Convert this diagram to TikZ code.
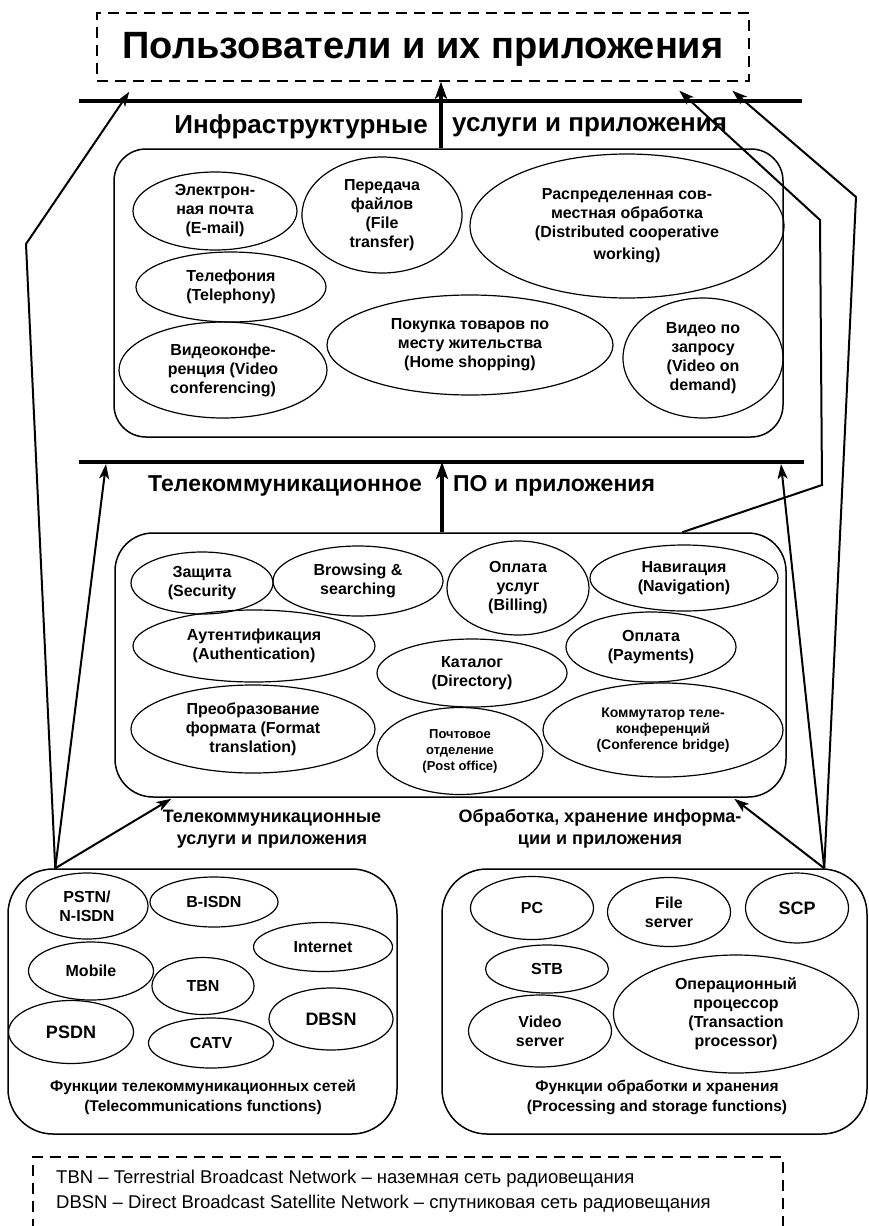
\documentclass[tikz,border=0pt]{standalone}
\usepackage{fontspec}
\setmainfont{Liberation Sans}
\usetikzlibrary{shapes.geometric,arrows.meta,calc}
\begin{document}
\begin{tikzpicture}[x=1pt,y=-1pt,
  ell/.style={draw, ellipse, line width=1.2pt, inner sep=0pt, align=center,
    font=\fontsize{16}{19}\selectfont\bfseries},
  ellbig/.style={ell, font=\fontsize{18}{21}\selectfont\bfseries},
  ellsmall/.style={ell, font=\fontsize{13}{16}\selectfont\bfseries},
  rbox/.style={draw, rectangle, line width=1.5pt, inner sep=0pt},
  dbox/.style={draw, rectangle, line width=1.4pt, inner sep=0pt, dash pattern=on 11pt off 7pt},
  hline/.style={line width=3.5pt},
  heading/.style={font=\fontsize{26}{28}\selectfont\bfseries, inner sep=0pt},
  subhead/.style={font=\fontsize{18}{22}\selectfont\bfseries, align=center, inner sep=0pt},
  caption/.style={font=\fontsize{15.5}{20}\selectfont\bfseries, align=center, inner sep=0pt},
  legtext/.style={font=\fontsize{18.5}{20}\selectfont, anchor=west, inner sep=0pt},
  arr/.style={line width=2pt, -{Stealth[length=15pt,width=10pt,inset=4pt]}},
  bigarr/.style={line width=3.5pt, -{Stealth[length=17pt,width=12pt,inset=4pt]}}
]
\useasboundingbox (0,0) rectangle (869,1226);

% top users box
\node[dbox, minimum width=652pt, minimum height=68pt] (users) at (423,47) {};
\node[font=\fontsize{38}{40}\selectfont\bfseries, inner sep=0pt] (title) at (423,49) {Пользователи и их приложения};

% line 1
\coordinate (l1a) at (79,101);
\coordinate (l1b) at (802,101);
\draw[hline] (l1a) -- (l1b);
\node[heading, anchor=east] (h1a) at (428,127) {Инфраструктурные};
\node[heading, anchor=west] (h1b) at (452,127) {услуги и приложения};

% box 1
\node[rbox, rounded corners=32pt, minimum width=669pt, minimum height=288pt] (box1) at (448.5,293) {};
\node[ell, minimum width=164pt, minimum height=78pt] (email) at (215,211) {Электрон-\\ная почта\\(E-mail)};
\node[ell, minimum width=160pt, minimum height=116pt] (file) at (382,215) {Передача\\файлов\\(File\\transfer)};
\node[ell, minimum width=314pt, minimum height=144pt] (distr) at (627,226) {Распределенная сов-\\местная обработка\\(Distributed cooperative\\[3pt]working)};
\node[ell, minimum width=190pt, minimum height=70pt] (tel) at (231,287) {Телефония\\(Telephony)};
\node[ell, minimum width=208pt, minimum height=96pt] (vconf) at (223,370) {Видеоконфе-\\ренция (Video\\conferencing)};
\node[ell, minimum width=286pt, minimum height=100pt] (home) at (470,345) {Покупка товаров по\\месту жительства\\(Home shopping)};
\node[ell, minimum width=160pt, minimum height=120pt] (vod) at (703,358) {Видео по\\запросу\\(Video on\\demand)};

% line 2
\coordinate (l2a) at (79,462);
\coordinate (l2b) at (804,462);
\draw[hline] (l2a) -- (l2b);
\node[heading, font=\fontsize{23}{26}\selectfont\bfseries, anchor=east] (h2a) at (422,486) {Телекоммуникационное};
\node[heading, font=\fontsize{23}{26}\selectfont\bfseries, anchor=west] (h2b) at (453,486) {ПО и приложения};

% box 2
\node[rbox, rounded corners=38pt, minimum width=671pt, minimum height=264pt] (box2) at (450.5,665) {};
\node[ell, minimum width=142pt, minimum height=62pt] (sec) at (202,583) {Защита\\(Security};
\node[ell, minimum width=170pt, minimum height=70pt] (brow) at (358,581) {Browsing \&\\searching};
\node[ell, minimum width=142pt, minimum height=94pt] (bill) at (518,588) {Оплата\\услуг\\(Billing)};
\node[ell, minimum width=188pt, minimum height=66pt] (nav) at (684,578) {Навигация\\(Navigation)};
\node[ell, minimum width=242pt, minimum height=72pt] (auth) at (254,646) {Аутентификация\\(Authentication)};
\node[ell, minimum width=170pt, minimum height=70pt] (pay) at (651,647) {Оплата\\(Payments)};
\node[ell, minimum width=190pt, minimum height=68pt] (dir) at (472,673) {Каталог\\(Directory)};
\node[ell, minimum width=244pt, minimum height=88pt] (fmt) at (253,729) {Преобразование\\формата (Format\\translation)};
\node[ellsmall, minimum width=166pt, minimum height=87pt] (post) at (460,751) {Почтовое\\отделение\\(Post office)};
\node[ellsmall, font=\fontsize{14}{16}\selectfont\bfseries, minimum width=240pt, minimum height=94pt] (confb) at (663,730) {Коммутатор теле-\\конференций\\(Conference bridge)};

% sub headings
\node[subhead] (sh1) at (272,829) {Телекоммуникационные\\услуги и приложения};
\node[subhead] (sh2) at (600,829) {Обработка, хранение информа-\\ции и приложения};

% bottom left box
\node[rbox, rounded corners=45pt, minimum width=389pt, minimum height=265pt] (blbox) at (202.5,1001.5) {};
\node[ell, minimum width=122pt, minimum height=66pt] (pstn) at (87,906) {PSTN/\\N-ISDN};
\node[ell, minimum width=128pt, minimum height=50pt] (bisdn) at (214,902) {B-ISDN};
\node[ell, minimum width=139pt, minimum height=49pt] (inet) at (323,947) {Internet};
\node[ell, minimum width=125pt, minimum height=58pt] (mob) at (91,971) {Mobile};
\node[ell, minimum width=102pt, minimum height=57pt] (tbn) at (203,986) {TBN};
\node[ellbig, minimum width=125pt, minimum height=63pt] (psdn) at (71,1032) {PSDN};
\node[ell, minimum width=125pt, minimum height=50pt] (catv) at (211,1043) {CATV};
\node[ellbig, minimum width=124pt, minimum height=62pt] (dbsn) at (331,1019) {DBSN};
\node[caption] (cap1) at (203,1097) {Функции телекоммуникационных сетей\\(Telecommunications functions)};

% bottom right box
\node[rbox, rounded corners=45pt, minimum width=425pt, minimum height=265pt] (brbox) at (654.5,1001.5) {};
\node[ell, minimum width=123pt, minimum height=63pt] (pc) at (532,908) {PC};
\node[ell, minimum width=123pt, minimum height=69pt] (fs) at (669,912) {File\\server};
\node[ellbig, minimum width=103pt, minimum height=70pt] (scp) at (797,908) {SCP};
\node[ell, minimum width=123pt, minimum height=48pt] (stb) at (547,969) {STB};
\node[ell, minimum width=143pt, minimum height=72pt] (vs) at (540,1031) {Video\\server};
\node[ell, minimum width=245pt, minimum height=118pt] (tp) at (736,1014) {Операционный\\процессор\\(Transaction\\processor)};
\node[caption] (cap2) at (657,1097) {Функции обработки и хранения\\(Processing and storage functions)};

% legend
\node[dbox, minimum width=750pt, minimum height=130pt] (legend) at (408,1222) {};
\node[legtext] (lg1) at (56,1179) {TBN – Terrestrial Broadcast Network – наземная сеть радиовещания};
\node[legtext] (lg2) at (56,1204) {DBSN – Direct Broadcast Satellite Network – спутниковая сеть радиовещания};

% central arrows
\coordinate (cx1) at (441,0);
\coordinate (cx2) at (442,0);
\draw[bigarr] (box1.north -| cx1) -- (users.south -| cx1);
\draw[bigarr] (box2.north -| cx2) -- (l2a -| cx2);

% side connectors
\coordinate (PL) at ($(blbox.north west)+(48,0)$);
\coordinate (PR) at ($(brbox.north west)+(383,0)$);
\coordinate (bendL) at (26,244);
\coordinate (bendR1a) at (822,485);
\coordinate (bendR1b) at (820,220);
\coordinate (bendR2) at (856,197);
\coordinate (tipU1) at ($(users.south west)+(33,10)$);
\coordinate (tipU2) at ($(users.south west)+(583,9)$);
\coordinate (tipU3) at ($(users.south west)+(636,9)$);
\coordinate (tipL2a) at ($(l2a)+(27,2)$);
\coordinate (tipL2b) at ($(l2b)+(-23,2)$);
\coordinate (tipB2a) at ($(box2.south west)+(57,1)$);
\coordinate (tipB2b) at ($(box2.south west)+(620,1)$);
\coordinate (startB2) at ($(box2.north west)+(568,0)$);

\draw[arr] (PL) -- (bendL) -- (tipU1);
\draw[arr] (PL) -- (tipL2a);
\draw[arr] (PL) -- (tipB2a);
\draw[arr] (PR) -- (tipB2b);
\draw[arr] (PR) -- (tipL2b);
\draw[arr] (PR) -- (bendR2) -- (tipU3);
\draw[arr] (startB2) -- (bendR1a) -- (bendR1b) -- (tipU2);
\end{tikzpicture}
\end{document}
